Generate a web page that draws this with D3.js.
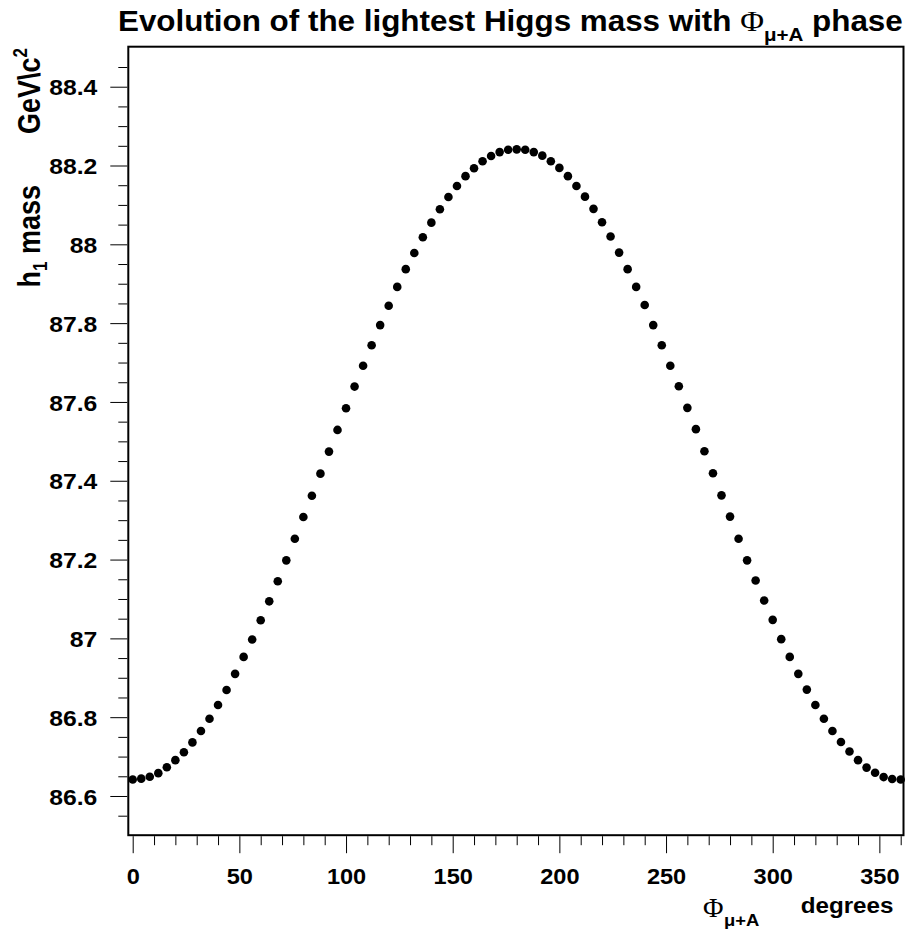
<!DOCTYPE html>
<html>
<head>
<meta charset="utf-8">
<script src="https://cdn.jsdelivr.net/npm/d3@7"></script>
<style>
  html, body { margin: 0; padding: 0; background: #fff; }
  svg { display: block; }
  text { font-family: "Liberation Sans", Arial, Helvetica, sans-serif; font-weight: bold; fill: #000; }
</style>
</head>
<body>
<svg id="chart" width="907" height="930"></svg>
<script>
// ---------------- data ----------------
const phaseDeg = [
  0, 4, 8, 12, 16, 20, 24, 28, 32, 36, 40, 44, 48, 52, 56, 60, 64, 68, 72, 76,
  80, 84, 88, 92, 96, 100, 104, 108, 112, 116, 120, 124, 128, 132, 136, 140, 144, 148, 152, 156,
  160, 164, 168, 172, 176, 180, 184, 188, 192, 196, 200, 204, 208, 212, 216, 220, 224, 228, 232, 236,
  240, 244, 248, 252, 256, 260, 264, 268, 272, 276, 280, 284, 288, 292, 296, 300, 304, 308, 312, 316,
  320, 324, 328, 332, 336, 340, 344, 348, 352, 356, 360
];
const massGeV = [
  86.642, 86.644, 86.649, 86.658, 86.673, 86.691, 86.711, 86.736, 86.765, 86.796,
  86.831, 86.869, 86.910, 86.953, 86.997, 87.046, 87.094, 87.145, 87.198, 87.253,
  87.308, 87.362, 87.418, 87.474, 87.529, 87.584, 87.639, 87.692, 87.744, 87.795,
  87.844, 87.892, 87.937, 87.978, 88.018, 88.055, 88.089, 88.120, 88.148, 88.173,
  88.193, 88.211, 88.224, 88.234, 88.240, 88.241, 88.240, 88.234, 88.225, 88.211,
  88.194, 88.173, 88.148, 88.121, 88.090, 88.056, 88.020, 87.979, 87.937, 87.892,
  87.846, 87.795, 87.744, 87.692, 87.640, 87.585, 87.531, 87.475, 87.419, 87.363,
  87.309, 87.253, 87.198, 87.147, 87.096, 87.047, 86.998, 86.953, 86.910, 86.870,
  86.831, 86.796, 86.765, 86.737, 86.713, 86.691, 86.672, 86.659, 86.648, 86.643,
  86.642
];
const xMajorTicks = [0, 50, 100, 150, 200, 250, 300, 350];
const xMajorLabels = ["0", "50", "100", "150", "200", "250", "300", "350"];
const xMinorTicks = [10, 20, 30, 40, 60, 70, 80, 90, 110, 120, 130, 140, 160, 170, 180, 190,
                     210, 220, 230, 240, 260, 270, 280, 290, 310, 320, 330, 340, 360];
const yMajorTicks = [86.6, 86.8, 87.0, 87.2, 87.4, 87.6, 87.8, 88.0, 88.2, 88.4];
const yMajorLabels = ["86.6", "86.8", "87", "87.2", "87.4", "87.6", "87.8", "88", "88.2", "88.4"];
const yMinorTicks = [86.55, 86.65, 86.7, 86.75, 86.85, 86.9, 86.95, 87.05, 87.1, 87.15, 87.25, 87.3, 87.35,
                     87.45, 87.5, 87.55, 87.65, 87.7, 87.75, 87.85, 87.9, 87.95, 88.05, 88.1, 88.15,
                     88.25, 88.3, 88.35, 88.45];
const titleMain = "Evolution of the lightest Higgs mass with ";
const titlePhi = "\u03A6";
const titleSub = "\u03BC+A";
const titleEnd = " phase";
const xTitleUnit = "degrees";
const yTitleMain = "h";
const yTitleSub = "1";
const yTitleRest = " mass";
const yTitleUnit = "GeV\\c";
const yTitleSup = "2";

// ---------------- layout ----------------
const frame = { left: 128.3, top: 46.7, right: 903.5, bottom: 835.2 };
const svg = d3.select("#chart");

const x = d3.scaleLinear().domain([0, 360]).range([132.7, 900.7]);
const y = d3.scaleLinear().domain([86.5, 88.5]).range([835.4, 47.3]);

function stretch(sel, k) {
  sel.each(function () {
    const len = this.getComputedTextLength();
    d3.select(this).attr("textLength", len * k).attr("lengthAdjust", "spacingAndGlyphs");
  });
}

// frame
svg.append("rect")
  .attr("x", frame.left).attr("y", frame.top)
  .attr("width", frame.right - frame.left).attr("height", frame.bottom - frame.top)
  .attr("fill", "none").attr("stroke", "#000").attr("stroke-width", 2);

// y axis major
const yLabelScale = 1.1;
const yAxisG = svg.append("g").attr("transform", `translate(${frame.left - 1},0)`)
  .call(d3.axisLeft(y).tickValues(yMajorTicks)
    .tickFormat((d, i) => yMajorLabels[i]).tickSize(17).tickPadding(13).tickSizeOuter(0));
yAxisG.select(".domain").remove();
yAxisG.selectAll("line").attr("stroke", "#000").attr("stroke-width", 1);
yAxisG.selectAll("text")
  .attr("font-size", 22.5).attr("font-family", null).attr("dy", "0.36em")
  .attr("text-anchor", "end")
  .attr("x", -30 / yLabelScale)
  .attr("transform", `scale(${yLabelScale},1)`)
  .style("font-weight", "bold");

// y axis minor
const yMinorG = svg.append("g").attr("transform", `translate(${frame.left - 1},0)`)
  .call(d3.axisLeft(y).tickValues(yMinorTicks).tickFormat("").tickSize(9).tickSizeOuter(0));
yMinorG.select(".domain").remove();
yMinorG.selectAll("line").attr("stroke", "#000").attr("stroke-width", 1);

// x axis major
const xAxisG = svg.append("g").attr("transform", `translate(0,${frame.bottom + 1})`)
  .call(d3.axisBottom(x).tickValues(xMajorTicks)
    .tickFormat((d, i) => xMajorLabels[i]).tickSize(17).tickPadding(15).tickSizeOuter(0));
xAxisG.select(".domain").remove();
xAxisG.selectAll("line").attr("stroke", "#000").attr("stroke-width", 1);
xAxisG.selectAll("text").attr("font-size", 22).attr("font-family", null)
  .style("font-weight", "bold");
stretch(xAxisG.selectAll("text"), 1.07);

// x axis minor
const xMinorG = svg.append("g").attr("transform", `translate(0,${frame.bottom + 1})`)
  .call(d3.axisBottom(x).tickValues(xMinorTicks).tickFormat("").tickSize(9).tickSizeOuter(0));
xMinorG.select(".domain").remove();
xMinorG.selectAll("line").attr("stroke", "#000").attr("stroke-width", 1);

// data points
svg.append("g").selectAll("circle")
  .data(phaseDeg.map((p, i) => [p, massGeV[i]]))
  .join("circle")
  .attr("cx", d => x(d[0]))
  .attr("cy", d => y(d[1]))
  .attr("r", 4.3)
  .attr("fill", "#000");

// title
const tg = svg.append("g");
const tt = tg.append("text").attr("x", 0).attr("y", 0).attr("font-size", 29);
tt.append("tspan").text(titleMain);
tt.append("tspan").text(titlePhi).style("font-family", "'Liberation Serif', 'Times New Roman', serif")
  .style("font-weight", "normal").attr("font-size", 30);
tt.append("tspan").text(titleSub).attr("font-size", 19).attr("dy", 10);
tt.append("tspan").text(titleEnd).attr("dy", -10);
{
  const bb = tt.node().getBBox();
  const sx = (903 - 118) / bb.width;
  tg.attr("transform", `translate(${118 - bb.x * sx},30.5) scale(${sx},1)`);
}

// x title
svg.append("text").attr("x", 703).attr("y", 917).attr("font-size", 28)
  .style("font-family", "'Liberation Serif', 'Times New Roman', serif").style("font-weight", "normal")
  .text(titlePhi);
const xs = svg.append("text").attr("x", 724).attr("y", 926).attr("font-size", 16).text(titleSub);
stretch(xs, 1.15);
const xu = svg.append("text").attr("x", 893.5).attr("y", 913).attr("text-anchor", "end")
  .attr("font-size", 22).text(xTitleUnit);
stretch(xu, 1.1);

// y title (glyph heights stretched slightly, like the reference)
const yt1 = svg.append("text").attr("transform", "translate(40,185) rotate(-90) scale(1,1.15)")
  .attr("text-anchor", "end").attr("font-size", 27);
yt1.append("tspan").text(yTitleMain);
yt1.append("tspan").text(yTitleSub).attr("font-size", 17).attr("dy", 6);
yt1.append("tspan").text(yTitleRest).attr("dy", -6);

const yt2 = svg.append("text").attr("transform", "translate(40,48) rotate(-90) scale(1,1.15)")
  .attr("text-anchor", "end").attr("font-size", 27);
yt2.append("tspan").text(yTitleUnit);
yt2.append("tspan").text(yTitleSup).attr("font-size", 17).attr("dy", -11);
</script>
</body>
</html>
